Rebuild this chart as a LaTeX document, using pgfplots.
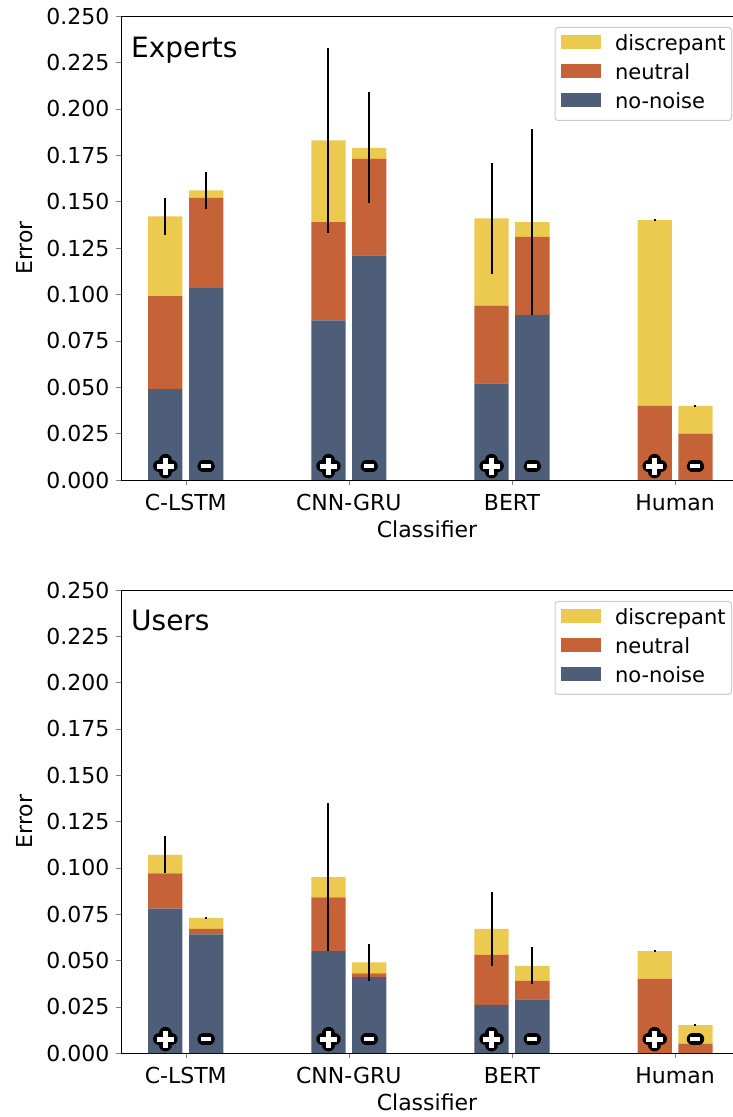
\documentclass[border=0pt]{standalone}
\usepackage{fontspec}
\setmainfont{DejaVu Sans}
\usepackage{pgfplots}
\usepackage{pgfplotstable}
\pgfplotsset{compat=1.18}
\definecolor{cdisc}{HTML}{ECCA50}
\definecolor{cneut}{HTML}{C56238}
\definecolor{cnone}{HTML}{4E5E78}

% x: -0.125 = "+" bar, +0.125 = "-" bar of each classifier
\pgfplotstableread{
x      nonoise neutral disc   total  err
-0.125 0.049   0.050   0.043  0.142  0.010
0.125  0.1035  0.0485  0.004  0.156  0.010
0.875  0.086   0.053   0.044  0.183  0.050
1.125  0.121   0.052   0.006  0.179  0.030
1.875  0.052   0.042   0.047  0.141  0.030
2.125  0.089   0.042   0.008  0.139  0.050
2.875  0.000   0.040   0.100  0.140  0.0005
3.125  0.000   0.025   0.015  0.040  0.0005
}\expdata

\pgfplotstableread{
x      nonoise neutral disc   total  err
-0.125 0.078   0.019   0.010  0.107  0.010
0.125  0.064   0.003   0.006  0.073  0.0005
0.875  0.055   0.029   0.011  0.095  0.040
1.125  0.041   0.002   0.006  0.049  0.010
1.875  0.026   0.027   0.014  0.067  0.020
2.125  0.029   0.010   0.008  0.047  0.010
2.875  0.000   0.040   0.015  0.055  0.0005
3.125  0.000   0.005   0.010  0.015  0.0005
}\usrdata

\newcommand\fs{\fontsize{22}{26}\selectfont}
\newcommand\lfs{\fontsize{21}{25}\selectfont}

\pgfdeclareplotmark{mplus}{%
  \pgfsetroundcap\pgfsetlinewidth{12.5pt}\pgfsetstrokecolor{black}%
  \pgfpathmoveto{\pgfpoint{-6pt}{0pt}}\pgfpathlineto{\pgfpoint{6pt}{0pt}}%
  \pgfpathmoveto{\pgfpoint{0pt}{-6pt}}\pgfpathlineto{\pgfpoint{0pt}{6pt}}%
  \pgfusepathqstroke
  \pgfsetbuttcap\pgfsetlinewidth{5pt}\pgfsetstrokecolor{white}%
  \pgfpathmoveto{\pgfpoint{-8.5pt}{0pt}}\pgfpathlineto{\pgfpoint{8.5pt}{0pt}}%
  \pgfpathmoveto{\pgfpoint{0pt}{-8.5pt}}\pgfpathlineto{\pgfpoint{0pt}{8.5pt}}%
  \pgfusepathqstroke}
\pgfdeclareplotmark{mminus}{%
  \pgfsetroundcap\pgfsetlinewidth{11.5pt}\pgfsetstrokecolor{black}%
  \pgfpathmoveto{\pgfpoint{-3pt}{0pt}}\pgfpathlineto{\pgfpoint{3pt}{0pt}}%
  \pgfusepathqstroke
  \pgfsetbuttcap\pgfsetlinewidth{4pt}\pgfsetstrokecolor{white}%
  \pgfpathmoveto{\pgfpoint{-5pt}{0pt}}\pgfpathlineto{\pgfpoint{5pt}{0pt}}%
  \pgfusepathqstroke}

\pgfplotsset{
  base/.style={scale only axis, width=612pt, height=464pt,
    xmin=-0.397, xmax=3.355, ymin=0, ymax=0.25, anchor=south west},
  main/.style={base, ybar stacked, bar width=0.21,
    xtick={0,1,2,3}, xticklabels={C-LSTM,CNN-GRU,BERT,Human},
    ytick={0,0.025,0.05,0.075,0.1,0.125,0.15,0.175,0.2,0.225,0.25},
    scaled y ticks=false,
    yticklabel style={xshift=-3pt, /pgf/number format/.cd, fixed, fixed zerofill, precision=3, assume math mode=true},
    xticklabel style={yshift=-6pt},
    tick label style={font=\fs},
    label style={font=\fs},
    tick align=outside, major tick length=5pt,
    xtick pos=bottom, ytick pos=left,
    axis line style={line width=0.8pt},
    xlabel=Classifier, ylabel=Error,
    xlabel style={at={(axis description cs:0.5,-0.124)}, anchor=base, inner sep=0pt},
    ylabel style={at={(axis description cs:-0.1438,0.5)}, anchor=south, inner sep=0pt},
    reverse legend,
    legend image code/.code={\fill[##1, sharp corners] (0pt,1.5pt) rectangle (40pt,15pt);},
    legend style={at={(axis description cs:0.9984,0.9763)}, anchor=north east,
      font=\lfs, draw=black!20, rounded corners=3pt, line width=1pt,
      inner xsep=6pt, inner ysep=7pt, row sep=8pt,
      /tikz/every odd column/.append style={column sep=14pt},
      nodes={inner sep=0pt, text height=16pt, text depth=5pt, anchor=base west}},
  },
  ebar/.style={error bars/.cd, y dir=both, y explicit, error mark=none,
    error bar style={draw=black, line width=2pt}},
}

\begin{document}
\begin{tikzpicture}
\path[use as bounding box] (0pt,0pt) rectangle (733pt,1117pt);

% ---------- Experts ----------
\begin{axis}[main, at={(121pt,637pt)}]
\addplot[fill=cnone, draw=none] table[x=x, y=nonoise] {\expdata};
\addplot[fill=cneut, draw=none] table[x=x, y=neutral] {\expdata};
\addplot[fill=cdisc, draw=none] table[x=x, y=disc] {\expdata};
\legend{no-noise, neutral, discrepant}
\node[anchor=base west, inner sep=0pt, font=\fontsize{28}{32}\selectfont] at (rel axis cs:0.0163,0.9116) {Experts};
\end{axis}
\begin{axis}[base, hide axis, clip=false, at={(121pt,637pt)}]
\addplot[draw=none, mark=none, ebar] table[x=x, y=total, y error=err] {\expdata};
\addplot[only marks, mark=mplus] coordinates {(-0.125,0.0075) (0.875,0.0075) (1.875,0.0075) (2.875,0.0075)};
\addplot[only marks, mark=mminus] coordinates {(0.125,0.0075) (1.125,0.0075) (2.125,0.0075) (3.125,0.0075)};
\end{axis}

% ---------- Users ----------
\begin{axis}[main, height=463pt, at={(121pt,64pt)}]
\addplot[fill=cnone, draw=none] table[x=x, y=nonoise] {\usrdata};
\addplot[fill=cneut, draw=none] table[x=x, y=neutral] {\usrdata};
\addplot[fill=cdisc, draw=none] table[x=x, y=disc] {\usrdata};
\legend{no-noise, neutral, discrepant}
\node[anchor=base west, inner sep=0pt, font=\fontsize{28}{32}\selectfont] at (rel axis cs:0.0163,0.9116) {Users};
\end{axis}
\begin{axis}[base, height=463pt, hide axis, clip=false, at={(121pt,64pt)}]
\addplot[draw=none, mark=none, ebar] table[x=x, y=total, y error=err] {\usrdata};
\addplot[only marks, mark=mplus] coordinates {(-0.125,0.0075) (0.875,0.0075) (1.875,0.0075) (2.875,0.0075)};
\addplot[only marks, mark=mminus] coordinates {(0.125,0.0075) (1.125,0.0075) (2.125,0.0075) (3.125,0.0075)};
\end{axis}
\end{tikzpicture}
\end{document}
